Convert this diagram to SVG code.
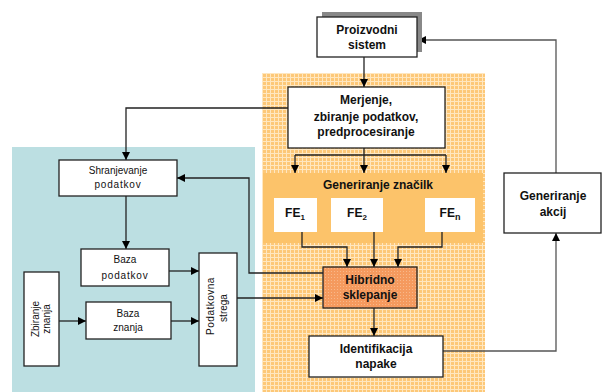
<svg xmlns="http://www.w3.org/2000/svg" width="602" height="392" viewBox="0 0 602 392">
<defs>
<pattern id="dots" width="4" height="4" patternUnits="userSpaceOnUse">
<rect width="4" height="4" fill="#FDC878"/>
<rect x="0" y="1" width="4" height="1" fill="#FFE7C0"/>
<rect x="2" y="0" width="1" height="4" fill="#FFE7C0"/>
</pattern>
<pattern id="hyb" width="3" height="3" patternUnits="userSpaceOnUse">
<rect width="3" height="3" fill="#F59A5E"/>
<rect x="1" y="1" width="1" height="1" fill="#F8B88A"/>
</pattern>
<marker id="ah" viewBox="0 0 10 10" refX="10" refY="5" markerWidth="8" markerHeight="8" markerUnits="userSpaceOnUse" orient="auto">
<path d="M0,0 L10,5 L0,10 z" fill="#000"/>
</marker>
<style>
.box{fill:#fff;stroke:#222;stroke-width:1.3}
.b{font-family:"Liberation Sans",Arial,sans-serif;font-weight:bold;font-size:12px;text-anchor:middle;fill:#111}
.r{font-family:"Liberation Sans",Arial,sans-serif;font-size:10px;text-anchor:middle;fill:#111}
.c{fill:none;stroke:#222;stroke-width:1.3}
.g{fill:none;stroke:#555;stroke-width:1.3}
</style>
</defs>
<rect width="602" height="392" fill="#fff"/>
<!-- regions -->
<rect x="12" y="147" width="243" height="245" fill="#BCDFE2"/>
<rect x="262" y="73" width="223" height="319" fill="url(#dots)"/>
<rect x="263" y="173" width="220" height="70" fill="#FCC36A"/>
<g id="connectors">
<polyline class="g" points="556,173 556,40 418,40" marker-end="url(#ah)"/>
<polyline class="g" points="443,351 556,351 556,233" marker-end="url(#ah)"/>
<line class="c" x1="364" y1="57" x2="364" y2="87" marker-end="url(#ah)"/>
<line class="c" x1="364" y1="148" x2="364" y2="155"/>
<line class="c" x1="295" y1="155" x2="446" y2="155"/>
<line class="c" x1="295" y1="155" x2="295" y2="173" marker-end="url(#ah)"/>
<line class="c" x1="364" y1="155" x2="364" y2="173" marker-end="url(#ah)"/>
<line class="c" x1="446" y1="155" x2="446" y2="173" marker-end="url(#ah)"/>
<polyline class="c" points="302,232 302,247 347,247 347,267" marker-end="url(#ah)"/>
<line class="c" x1="374" y1="232" x2="374" y2="267" marker-end="url(#ah)"/>
<polyline class="c" points="442,232 442,247 398,247 398,267" marker-end="url(#ah)"/>
<line class="c" x1="374" y1="308" x2="374" y2="336" marker-end="url(#ah)"/>
<polyline class="c" points="288,108 126,108 126,160" marker-end="url(#ah)"/>
<line class="c" x1="126" y1="196" x2="126" y2="249" marker-end="url(#ah)"/>
<line class="c" x1="169" y1="271" x2="199" y2="271" marker-end="url(#ah)"/>
<line class="c" x1="59" y1="321" x2="86" y2="321" marker-end="url(#ah)"/>
<line class="c" x1="171" y1="321" x2="199" y2="321" marker-end="url(#ah)"/>
<line class="c" x1="237" y1="298" x2="323" y2="298" marker-end="url(#ah)"/>
<polyline class="c" points="323,273 249,273 249,178 177,178" marker-end="url(#ah)"/>
</g>
<g id="proizvodni">
<rect x="322" y="12" width="100" height="40" fill="#888"/>
<rect class="box" x="317" y="17" width="100" height="40"/>
<text class="b" x="367" y="34">Proizvodni</text>
<text class="b" x="367" y="49">sistem</text>
</g>
<g id="merjenje">
<rect class="box" x="288" y="87" width="157" height="61"/>
<text class="b" x="366" y="104">Merjenje,</text>
<text class="b" x="366" y="121">zbiranje podatkov,</text>
<text class="b" x="366" y="136">predprocesiranje</text>
</g>
<g id="generiranje-znacilk">
<text class="b" x="378" y="189">Generiranje značilk</text>
</g>
<g id="fe1">
<rect x="274" y="198" width="43" height="34" fill="#fff"/>
<text class="b" x="295" y="217">FE<tspan font-size="8" dy="3">1</tspan></text>
</g>
<g id="fe2">
<rect x="331" y="198" width="52" height="34" fill="#fff"/>
<text class="b" x="357" y="217">FE<tspan font-size="8" dy="3">2</tspan></text>
</g>
<g id="fen">
<rect x="425" y="198" width="50" height="34" fill="#fff"/>
<text class="b" x="450" y="217">FE<tspan font-size="9" dy="3">n</tspan></text>
</g>
<g id="hibridno">
<rect x="323" y="267" width="94" height="41" fill="url(#hyb)" stroke="#222" stroke-width="1.3"/>
<text class="b" x="370" y="284">Hibridno</text>
<text class="b" x="370" y="299">sklepanje</text>
</g>
<g id="identifikacija">
<rect class="box" x="309" y="336" width="134" height="41"/>
<text class="b" x="376" y="353">Identifikacija</text>
<text class="b" x="376" y="368">napake</text>
</g>
<g id="generiranje-akcij">
<rect class="box" x="504" y="173" width="97" height="60"/>
<text class="b" x="553" y="200">Generiranje</text>
<text class="b" x="553" y="216">akcij</text>
</g>
<g id="shranjevanje">
<rect class="box" x="59" y="160" width="118" height="36"/>
<text class="r" x="118" y="174">Shranjevanje</text>
<text class="r" x="118" y="188" letter-spacing="0.8">podatkov</text>
</g>
<g id="baza-podatkov">
<rect class="box" x="81" y="249" width="88" height="37"/>
<text class="r" x="125" y="263">Baza</text>
<text class="r" x="125" y="279" letter-spacing="0.8">podatkov</text>
</g>
<g id="baza-znanja">
<rect class="box" x="86" y="302" width="85" height="37"/>
<text class="r" x="128" y="317">Baza</text>
<text class="r" x="128" y="331">znanja</text>
</g>
<g id="zbiranje-znanja">
<rect class="box" x="24" y="272" width="35" height="94"/>
<text class="r" transform="translate(41,319) rotate(-90)" x="0" y="-2">Zbiranje</text>
<text class="r" transform="translate(41,319) rotate(-90)" x="0" y="9">znanja</text>
</g>
<g id="podatkovna-strega">
<rect class="box" x="199" y="253" width="38" height="113"/>
<text class="r" transform="translate(218,306) rotate(-90)" x="0" y="-4" letter-spacing="0.5">Podatkovna</text>
<text class="r" transform="translate(218,308) rotate(-90)" x="0" y="9">strega</text>
</g>
</svg>
